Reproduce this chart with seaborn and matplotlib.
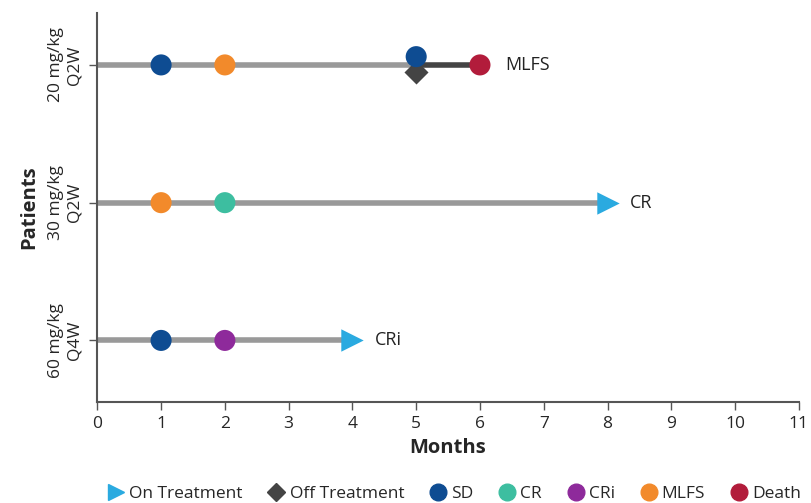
import matplotlib
matplotlib.use("Agg")
import matplotlib.pyplot as plt
import seaborn as sns
import pandas as pd
from matplotlib.lines import Line2D

sns.set_style("white")
plt.rcParams['font.family'] = ['Open Sans', 'DejaVu Sans']

# Data
patients = ["20 mg/kg\nQ2W", "30 mg/kg\nQ2W", "60 mg/kg\nQ4W"]
on_treat_end = [5, 8, 4]          # end of on-treatment (light grey) segment
off_treat_end = [6, None, None]   # end of off-treatment (dark) segment
status_label = ["MLFS", "CR", "CRi"]
arrow_patients = ["30 mg/kg\nQ2W", "60 mg/kg\nQ4W"]
arrow_months = [8, 4]
diamond_patients = ["20 mg/kg\nQ2W"]
diamond_months = [5]

resp_patient = ["20 mg/kg\nQ2W", "20 mg/kg\nQ2W", "20 mg/kg\nQ2W", "20 mg/kg\nQ2W",
                "30 mg/kg\nQ2W", "30 mg/kg\nQ2W",
                "60 mg/kg\nQ4W", "60 mg/kg\nQ4W"]
resp_month = [1, 2, 5, 6, 1, 2, 1, 2]
resp_type = ["SD", "MLFS", "SD", "Death", "MLFS", "CR", "SD", "CRi"]
resp_offset = [0, 0, -0.06, 0, 0, 0, 0, 0]

palette = {"SD": "#0E4C92", "CR": "#3DBEA0", "CRi": "#8E2A9B",
           "MLFS": "#F28A2B", "Death": "#B21C3B"}
on_color = "#2AAAE0"
off_color = "#444444"

fig, ax = plt.subplots(figsize=(8.11, 5.03), dpi=100)
fig.subplots_adjust(left=0.12, right=0.985, top=0.975, bottom=0.2)

ypos = {p: i for i, p in enumerate(patients)}

for p, e, o in zip(patients, on_treat_end, off_treat_end):
    y = ypos[p]
    ax.plot([0, e], [y, y], color="#999999", lw=4, solid_capstyle="butt", zorder=1)
    if o is not None:
        ax.plot([e, o], [y, y], color=off_color, lw=4, solid_capstyle="butt", zorder=1)

df = pd.DataFrame({"patient": resp_patient, "month": resp_month, "type": resp_type,
                   "off": resp_offset})
df["y"] = df["patient"].map(ypos) + df["off"]

ax.scatter(diamond_months, [ypos[p] + 0.05 for p in diamond_patients], marker="D",
           s=150, color=off_color, zorder=2, linewidths=0)
sns.scatterplot(data=df, x="month", y="y", hue="type", palette=palette, s=230,
                linewidth=0, ax=ax, legend=False, zorder=3)
ax.scatter(arrow_months, [ypos[p] for p in arrow_patients], marker=">", s=260,
           color=on_color, zorder=3, linewidths=0)

label_x = [6.4, 8.35, 4.35]
for p, lx, t in zip(patients, label_x, status_label):
    ax.text(lx, ypos[p], t, va="center", ha="left", fontsize=13, color="#222222")

ax.set_xlim(0, 11)
ax.set_ylim(2.45, -0.38)
ax.set_xticks(range(0, 12))
ax.set_yticks(range(len(patients)))
ax.set_yticklabels(patients, rotation=90, va="center", multialignment="center")
ax.tick_params(axis="y", pad=5, labelsize=12.5, length=6, width=1, color="#555555", left=True)
ax.tick_params(axis="x", labelsize=12.5, length=6, width=1, color="#555555", bottom=True, pad=4)
sns.despine(ax=ax)
for s in ["left", "bottom"]:
    ax.spines[s].set_color("#555555")
    ax.spines[s].set_linewidth(1.5)
ax.set_xlabel("Months", fontsize=14.5, fontweight="bold", labelpad=4)
ax.set_ylabel("Patients", fontsize=14.5, fontweight="bold", labelpad=6)

handles = [
    Line2D([], [], marker=">", color=on_color, ls="", markersize=12, label="On Treatment"),
    Line2D([], [], marker="D", color=off_color, ls="", markersize=9, label="Off Treatment"),
]
for k in ["SD", "CR", "CRi", "MLFS", "Death"]:
    handles.append(Line2D([], [], marker="o", color=palette[k], ls="", markersize=12, label=k))
fig.legend(handles=handles, loc="lower center", ncol=7, frameon=False, fontsize=12.5,
           bbox_to_anchor=(0.56, -0.03), handletextpad=0.25, handlelength=1.0,
           columnspacing=1.45)

fig.savefig("out.png", dpi=100)
